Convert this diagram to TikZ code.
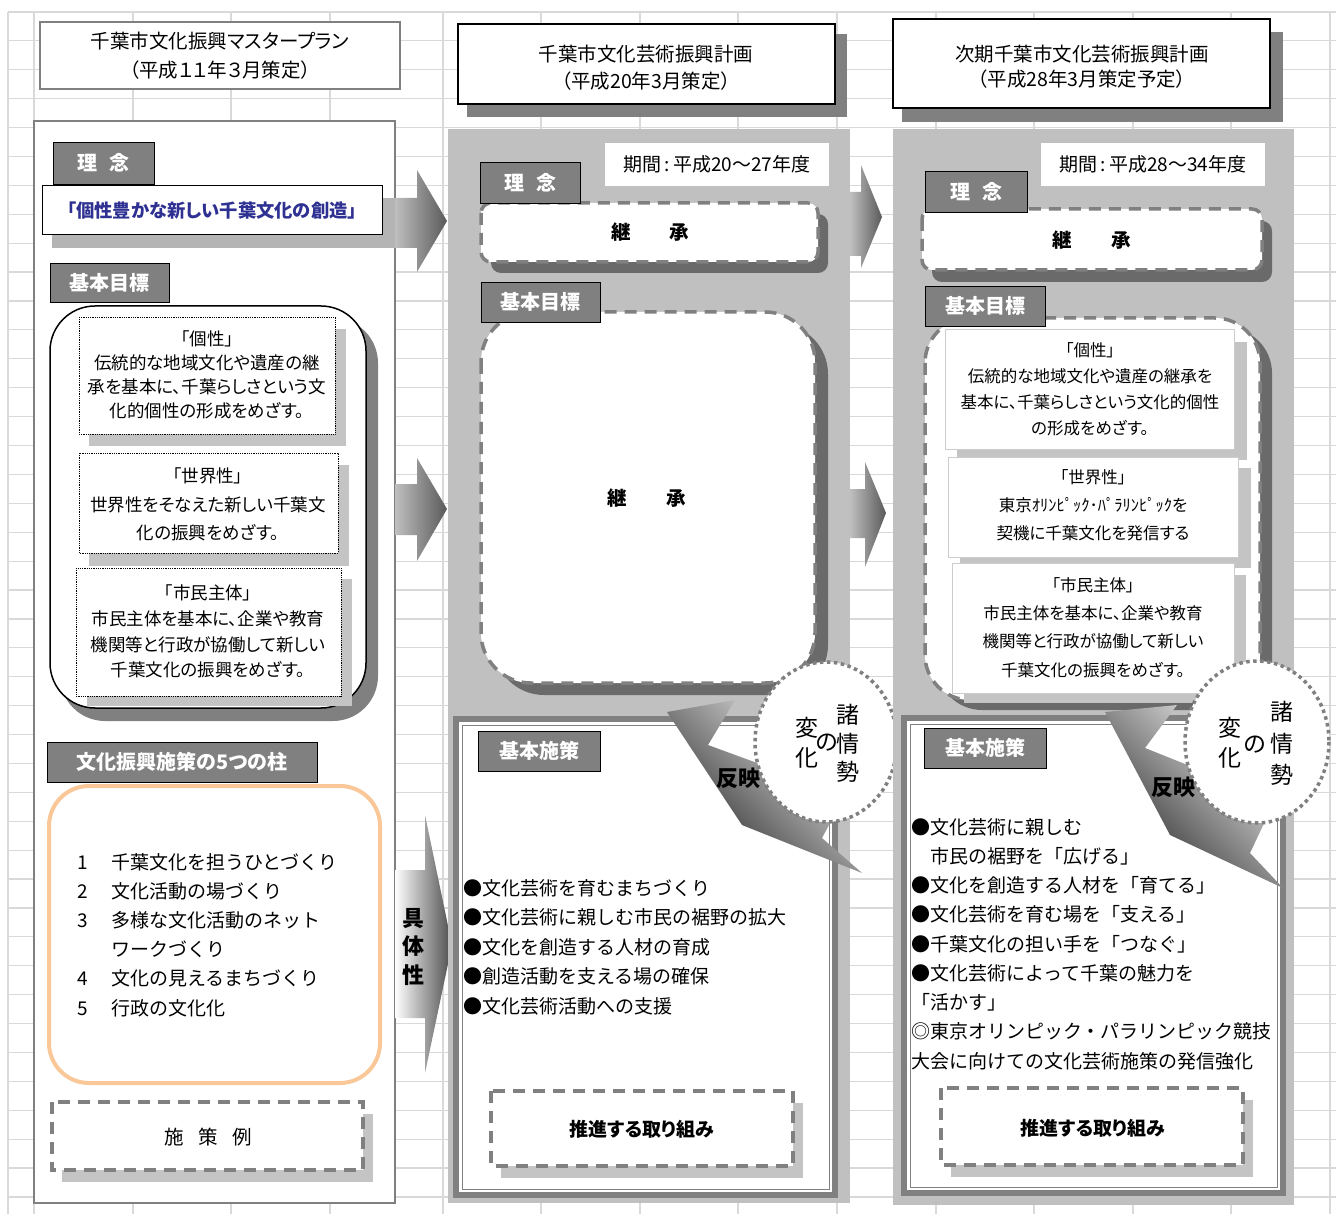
\documentclass[tikz,border=0pt]{standalone}
\usepackage{fontspec}
\setmainfont{Noto Sans CJK JP}[RawFeature=+palt]
\newfontfamily\monojp{Noto Sans CJK JP}
\usepackage{tikz}
\usetikzlibrary{calc}

\definecolor{cellgray}{HTML}{D9D9D9}
\definecolor{taggray}{HTML}{808080}
\definecolor{panelgray}{HTML}{C0C0C0}
\definecolor{stripgray}{HTML}{B4B4B4}
\definecolor{shadedark}{HTML}{6A6A6A}
\definecolor{shadelight}{HTML}{C4C4C4}
\definecolor{peach}{HTML}{FAC898}
\definecolor{mottoblue}{HTML}{2E3192}

\newcommand{\jfs}[2]{\fontsize{#1}{#2}\selectfont}

\begin{document}
\begin{tikzpicture}[x=1pt,y=-1pt,
    tag/.style={draw=black, line width=0.8, fill=taggray, text=white, inner sep=0, font=\bfseries\jfs{20}{20}},
    dashbox/.style={draw=taggray, line width=3.5, dash pattern=on 12pt off 8pt, fill=white},
    dotring/.style={draw=taggray, line width=3.5, dash pattern=on 3.5pt off 3.5pt, fill=white},
    txt/.style={inner sep=0, align=center},
    cellline/.style={draw=cellgray, line width=1.2}]

        \useasboundingbox[fill=white] (0,0) rectangle (1336,1214);

        % 背景の罫線
        \foreach \x in {8,34,133,231,330,443,541,640,738,837,936,1034,1133,1231,1330}
            \draw[cellline] (\x,12) -- (\x,1214);
        \foreach \i in {0,...,41}
            \draw[cellline] (8,12+28.9*\i) -- (1336,12+28.9*\i);

        % ===== 左の列 (マスタープラン) =====
        \draw[taggray, line width=1.2, fill=white] (40,22) rectangle (400,89);
        \node[txt, font=\jfs{19.5}{29}] (titleL) at (220,55.5) {千葉市文化振興マスタープラン\\（平成１１年３月策定）};

        \draw[taggray, line width=2, fill=white] (34,121) rectangle (395,1203);

        % 理念 → 矢印
        \fill[stripgray] (52,198) rectangle (395,248);
        \shade[left color=black!25, right color=black!65] (395,198) -- (417,198) -- (417,170) -- (447,221) -- (417,272) -- (417,248) -- (395,248) -- cycle;
        \node[tag, minimum width=101, minimum height=42] (rinenL) at (103.5,163) {理\hspace{.6em}念};
        \node[draw=black, line width=1, fill=white, minimum width=340, minimum height=49, inner sep=0,
              text=mottoblue, font=\bfseries\jfs{18.3}{18}] (motto) at (212,210.5) {「個性豊かな新しい千葉文化の創造」};

        % 基本目標
        \node[tag, minimum width=119, minimum height=39] (goalL) at (109.5,282.5) {基本目標};
        \fill[taggray, rounded corners=45] (60,318) rectangle (378,721);
        \draw[black, line width=1.5, fill=white, rounded corners=45] (50,306) rectangle (366,708);

        \fill[shadelight] (89,329) rectangle (346,446);
        \draw[densely dotted, line width=0.8, fill=white] (79,317) rectangle (335,434);
        \node[txt, font=\jfs{17.5}{24}] (koseiL) at (207,375) {「個性」\\伝統的な地域文化や遺産の継\\承を基本に、千葉らしさという文\\化的個性の形成をめざす。};

        \fill[shadelight] (89,465) rectangle (349,566);
        \draw[densely dotted, line width=0.8, fill=white] (79,453) rectangle (338,553);
        \node[txt, font=\jfs{17.5}{28.5}] (sekaiL) at (208,504.5) {「世界性」\\世界性をそなえた新しい千葉文\\化の振興をめざす。};

        \fill[shadelight] (87,579) rectangle (352,706);
        \draw[densely dotted, line width=0.8, fill=white] (76,568) rectangle (341,696);
        \node[txt, font=\jfs{17.5}{25.7}] (shiminL) at (208,631.5) {「市民主体」\\市民主体を基本に、企業や教育\\機関等と行政が協働して新しい\\千葉文化の振興をめざす。};

        % 基本目標 → 矢印
        \shade[left color=black!25, right color=black!65] (395,484) -- (417,484) -- (417,458) -- (447,509) -- (417,561) -- (417,535) -- (395,535) -- cycle;

        % 5つの柱
        \node[tag, minimum width=270, minimum height=40] (pillarTag) at (182,762) {文化振興施策の5つの柱};
        \draw[peach, line width=4, fill=white, rounded corners=40] (49,786) rectangle (380,1083);
        \node[inner sep=0, align=left, anchor=west, font=\monojp\jfs{19}{29.2}] (pillars) at (77,935)
            {\makebox[34pt][l]{1}千葉文化を担うひとづくり\\
             \makebox[34pt][l]{2}文化活動の場づくり\\
             \makebox[34pt][l]{3}多様な文化活動のネット\\
             \makebox[34pt][l]{}ワークづくり\\
             \makebox[34pt][l]{4}文化の見えるまちづくり\\
             \makebox[34pt][l]{5}行政の文化化};

        % 施策例
        \fill[shadelight] (62,1114) rectangle (373,1182);
        \draw[dashbox] (52,1102) rectangle (363,1170);
        \node[txt, font=\jfs{19.5}{20}] (exampleL) at (208,1137) {施\hspace{.75em}策\hspace{.75em}例};

        % 具体性 の矢印
        \shade[left color=white, right color=black!70] (395,870) -- (425,870) -- (425,815) -- (452,945) -- (425,1073) -- (425,1018) -- (395,1018) -- cycle;
        \node[txt, font=\bfseries\jfs{22}{28.5}] (concrete) at (413,946.5) {具\\体\\性};

        % ===== 中央の列 (平成20年計画) =====
        \fill[panelgray] (448,129) rectangle (850,1203);
        \fill[taggray] (467,34) rectangle (847,117);
        \draw[black, line width=2.5, fill=white] (458,24) rectangle (835,104);
        \node[txt, font=\jfs{19.5}{27}] (titleM) at (646,67.5) {千葉市文化芸術振興計画\\（平成20年3月策定）};
        \node[fill=white, minimum width=224, minimum height=43, inner sep=0, font=\jfs{19}{19}] (termM) at (717,164.5) {期間\,:\,平成20～27年度};

        % 理念
        \fill[shadedark, rounded corners=10] (491,214) rectangle (828,273);
        \draw[dashbox, rounded corners=10] (481,203) rectangle (818,262);
        \node[tag, minimum width=100, minimum height=41] (rinenM) at (530,182.5) {理\hspace{.6em}念};
        \node[txt, font=\bfseries\jfs{19.5}{20}] (keishoM1) at (650,232) {継\hspace{2em}承};

        % 基本目標
        \fill[shadedark, rounded corners=50] (494,324) rectangle (828,695);
        \draw[dashbox, rounded corners=50] (481,312) rectangle (815,683);
        \node[tag, minimum width=119, minimum height=40] (goalM) at (540.5,302) {基本目標};
        \node[txt, font=\bfseries\jfs{19.5}{20}] (keishoM2) at (646.5,498) {継\hspace{2em}承};

        % 基本施策
        \fill[taggray] (453,716) rectangle (838,1198);
        \fill[white] (459,722) rectangle (832,1192);
        \draw[taggray, line width=1] (462,725) rectangle (829,1189);
        \node[tag, minimum width=122, minimum height=40] (policyM) at (539,751) {基本施策};
        \node[inner sep=0, align=left, anchor=west, font=\monojp\jfs{19}{29.5}] (listM) at (463,947)
            {●文化芸術を育むまちづくり\\
             ●文化芸術に親しむ市民の裾野の拡大\\
             ●文化を創造する人材の育成\\
             ●創造活動を支える場の確保\\
             ●文化芸術活動への支援};
        \fill[shadelight] (501,1103) rectangle (803,1178);
        \draw[dashbox] (491,1091) rectangle (793,1166);
        \node[txt, font=\bfseries\jfs{19}{20}] (effortM) at (642,1129) {推進する取り組み};

        % 反映 と 諸情勢の変化
        \shade[top color=black!5, bottom color=black!85, shading angle=-45]
            (667,712) -- (742,825) -- (862,873) -- (822,838) -- (836,812) -- (790,775) -- (708,745) -- (735,700) -- cycle;
        \draw[dotring] (826,742) ellipse (71 and 80);
        \node[txt, font=\jfs{23}{28.5}] (shoM) at (848,743.5) {諸\\情\\勢};
        \node[txt, font=\jfs{23}{23}] (noM) at (827,743) {の};
        \node[txt, font=\jfs{23}{30}] (henM) at (807,743) {変\\化};
        \node[txt, font=\bfseries\jfs{22}{22}] (hanM) at (738,778) {反映};

        % 中央 → 右 の矢印
        \shade[left color=black!25, right color=black!65] (850,192) -- (861,192) -- (861,165) -- (882,217) -- (861,268) -- (861,256) -- (850,256) -- cycle;
        \shade[left color=black!25, right color=black!65] (850,489) -- (865,489) -- (865,462) -- (886,513) -- (865,567) -- (865,538) -- (850,538) -- cycle;

        % ===== 右の列 (次期計画) =====
        \fill[panelgray] (893,129) rectangle (1294,1205);
        \fill[taggray] (902,32) rectangle (1283,122);
        \draw[black, line width=2.5, fill=white] (893,19) rectangle (1270,108);
        \node[txt, font=\jfs{19.5}{25}] (titleR) at (1082,66.5) {次期千葉市文化芸術振興計画\\（平成28年3月策定予定）};
        \node[fill=white, minimum width=224, minimum height=43, inner sep=0, font=\jfs{19}{19}] (termR) at (1153,164.5) {期間\,:\,平成28～34年度};

        % 理念
        \fill[shadedark, rounded corners=10] (932,221) rectangle (1272,282);
        \draw[dashbox, rounded corners=10] (922,209) rectangle (1262,270);
        \node[tag, minimum width=102, minimum height=41] (rinenR) at (976,191.5) {理\hspace{.6em}念};
        \node[txt, font=\bfseries\jfs{19.5}{20}] (keishoR) at (1091.5,240) {継\hspace{2em}承};

        % 基本目標
        \fill[shadedark, rounded corners=45] (937,328) rectangle (1272,710);
        \draw[dashbox, rounded corners=45] (925,318) rectangle (1260,700);
        \node[tag, minimum width=120, minimum height=40] (goalR) at (985,306) {基本目標};

        \fill[shadelight] (957,342) rectangle (1247,460);
        \draw[black!20, line width=1, fill=white] (945,330) rectangle (1234,449);
        \node[txt, font=\jfs{16.5}{26}] (koseiR) at (1090,389) {「個性」\\伝統的な地域文化や遺産の継承を\\基本に、千葉らしさという文化的個性\\の形成をめざす。};

        \fill[shadelight] (960,468) rectangle (1251,568);
        \draw[black!20, line width=1, fill=white] (948,457) rectangle (1238,557);
        \node[txt, font=\jfs{16.5}{28}] (sekaiR) at (1093,505) {「世界性」\\東京ｵﾘﾝﾋﾟｯｸ･ﾊﾟﾗﾘﾝﾋﾟｯｸを\\契機に千葉文化を発信する};

        \fill[shadelight] (964,575) rectangle (1246,703);
        \draw[black!20, line width=1, fill=white] (952,563) rectangle (1234,693);
        \node[txt, font=\jfs{16.5}{28.3}] (shiminR) at (1093,627.5) {「市民主体」\\市民主体を基本に、企業や教育\\機関等と行政が協働して新しい\\千葉文化の振興をめざす。};

        % 基本施策
        \fill[taggray] (901,715) rectangle (1286,1196);
        \fill[white] (907,721) rectangle (1280,1190);
        \draw[taggray, line width=1] (910,724) rectangle (1277,1187);
        \node[tag, minimum width=122, minimum height=40] (policyR) at (985,748) {基本施策};
        \node[inner sep=0, align=left, anchor=west, font=\monojp\jfs{19}{29.25}] (listR) at (911,944)
            {●文化芸術に親しむ\\
             　市民の裾野を「広げる」\\
             ●文化を創造する人材を「育てる」\\
             ●文化芸術を育む場を「支える」\\
             ●千葉文化の担い手を「つなぐ」\\
             ●文化芸術によって千葉の魅力を\\
             「活かす」\\
             ◎東京オリンピック・パラリンピック競技\\
             大会に向けての文化芸術施策の発信強化};
        \fill[shadelight] (951,1100) rectangle (1253,1177);
        \draw[dashbox] (941,1088) rectangle (1243,1165);
        \node[txt, font=\bfseries\jfs{19}{20}] (effortR) at (1093,1128) {推進する取り組み};

        % 反映 と 諸情勢の変化
        \shade[top color=black!5, bottom color=black!85, shading angle=-45]
            (1105,712) -- (1170,835) -- (1283,888) -- (1250,853) -- (1268,815) -- (1225,780) -- (1145,748) -- (1177,705) -- cycle;
        \draw[dotring] (1257,742) ellipse (72 and 81);
        \node[txt, font=\jfs{23}{31.5}] (shoR) at (1282,743.5) {諸\\情\\勢};
        \node[txt, font=\jfs{23}{23}] (noR) at (1255,745) {の};
        \node[txt, font=\jfs{23}{30}] (henR) at (1230,743) {変\\化};
        \node[txt, font=\bfseries\jfs{22}{22}] (hanR) at (1173,787) {反映};

\end{tikzpicture}
\end{document}
